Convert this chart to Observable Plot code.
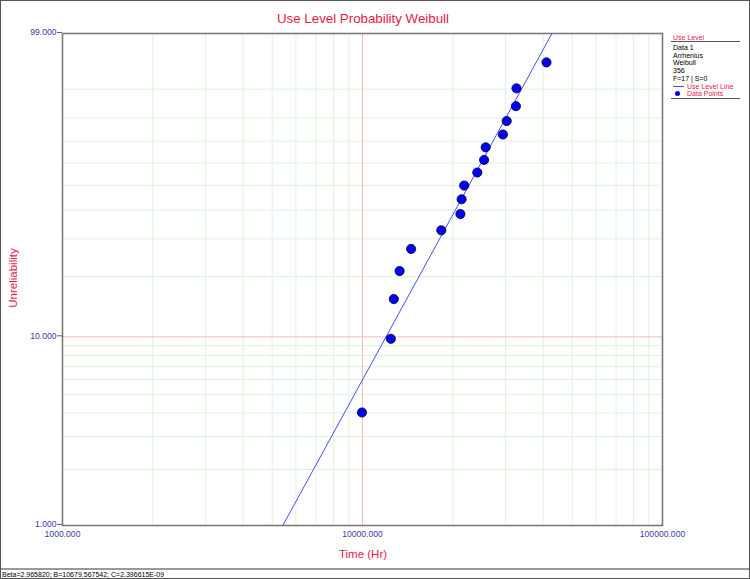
<!DOCTYPE html>
<html><head><meta charset="utf-8">
<script src="https://cdn.jsdelivr.net/npm/d3@7"></script>
<script src="https://cdn.jsdelivr.net/npm/@observablehq/plot@0.6"></script>
<style>
body{margin:0;background:#fff;}
#wrap{position:relative;width:750px;height:579px;overflow:hidden;font-family:"Liberation Sans",Arial,sans-serif;background:#fff;}
#wrap svg{position:absolute;left:0;top:0;}
.abs{position:absolute;white-space:nowrap;line-height:1;}
.c{transform:translate(-50%,-50%);}
#border{position:absolute;left:0;top:0;width:750px;height:579px;box-sizing:border-box;border:1px solid #555;pointer-events:none;}
#footer{position:absolute;left:0;top:568px;width:750px;height:11px;border-top:2px solid #999;box-sizing:border-box;}
.lg{position:absolute;left:673px;font-size:7px;line-height:1;color:#000;white-space:nowrap;}
.hr{position:absolute;left:671px;width:69px;height:0;border-top:1.2px solid #555;}
</style></head><body><div id="wrap"></div>
<script>
// Data
const times = [9960, 12427, 12717, 13295, 14521, 18310, 21201, 21397, 21830, 24134, 25430, 25744, 29376, 30248, 32460, 32610, 41052];
const unreliability = [4.023, 9.770, 15.517, 21.264, 27.011, 32.759, 38.506, 44.253, 50.000, 55.747, 61.494, 67.241, 72.989, 78.736, 84.483, 90.230, 95.977];
const lineTimes = [5424, 42810];
const lineUnrel = [1, 99];
const yTicks = [1, 10, 99];
const xTicks = [1000, 10000, 100000];
const yMinor = [2, 3, 4, 5, 6, 7, 8, 9, 20, 30, 40, 50, 60, 70, 80, 90];
const yMajor = [10];
const xMinor = [2000, 3000, 4000, 5000, 6000, 7000, 8000, 9000, 20000, 30000, 40000, 50000, 60000, 70000, 80000, 90000];
const xMajor = [10000];
const legendLines = ["Data 1", "Arrhenius", "Weibull", "356", "F=17 | S=0"];

const wb = p => Math.log(-Math.log(1 - p / 100));
const inv = v => 100 * (1 - Math.exp(-Math.exp(v)));
const pts = times.map((t, i) => ({t, F: unreliability[i]}));
const line = lineTimes.map((t, i) => ({t, F: lineUnrel[i]}));

const green = "#daf6da";
const pink = "#ffb8b8";
const blueTxt = "#3a3aa6";

const chart = Plot.plot({
  width: 750,
  height: 568,
  marginLeft: 62,
  marginRight: 88,
  marginTop: 33,
  marginBottom: 43,
  style: {fontFamily: '"Liberation Sans", Arial, sans-serif', fontSize: "8.6px", color: blueTxt, background: "transparent"},
  x: {type: "log", domain: [1000, 100000]},
  y: {type: "linear", domain: [wb(1), wb(99)]},
  marks: [
    Plot.ruleX(xMinor, {stroke: green, strokeWidth: 1}),
    Plot.ruleY(yMinor, {y: wb, stroke: green, strokeWidth: 1}),
    Plot.ruleX(xMajor, {stroke: pink, strokeWidth: 1}),
    Plot.ruleY(yMajor, {y: wb, stroke: pink, strokeWidth: 1}),
    Plot.frame({stroke: "#7a7a7a", strokeWidth: 1.6}),
    Plot.axisY(yTicks.map(wb), {tickSize: 5, tickPadding: 1, dy: -1, tickFormat: v => inv(v).toFixed(3), label: null, stroke: "#666"}),
    Plot.axisX(xTicks, {tickSize: 0, tickPadding: 5.5, tickFormat: d => d.toFixed(3), label: null}),
    Plot.line(line, {x: "t", y: d => wb(d.F), stroke: "#4b4bff", strokeWidth: 1}),
    Plot.dot(pts, {x: "t", y: d => wb(d.F), r: 4.6, fill: "#0000f0", stroke: "#00003a", strokeWidth: 0.8})
  ]
});

const wrap = document.getElementById("wrap");
wrap.appendChild(chart);

function addDiv(html, style, cls) {
  const d = document.createElement("div");
  d.className = cls || "abs";
  d.innerHTML = html;
  Object.assign(d.style, style);
  wrap.appendChild(d);
  return d;
}
addDiv("Use Level Probability Weibull", {left: "363px", top: "19px", fontSize: "13.3px", color: "#e8194b"}, "abs c");
addDiv("Time (Hr)", {left: "363px", top: "555px", fontSize: "11.5px", color: "#e8194b"}, "abs c");
addDiv("Unreliability", {left: "14px", top: "278px", fontSize: "11.5px", color: "#e8194b", transform: "translate(-50%,-50%) rotate(-90deg)"}, "abs");

// legend
addDiv("Use Level", {top: "33.5px", color: "#e8194b", textDecoration: "underline"}, "lg");
addDiv("", {top: "41px"}, "hr");
legendLines.forEach((t, i) => addDiv(t, {top: (44 + i * 7.7) + "px"}, "lg"));
addDiv("", {left: "673px", top: "86px", width: "11px", height: "0", borderTop: "1px solid #4b4bff", position: "absolute"}, "");
addDiv("Use Level Line", {top: "82.5px", left: "687px", color: "#e8194b"}, "lg");
addDiv("", {left: "675px", top: "90.5px", width: "5px", height: "5px", borderRadius: "50%", background: "#0000f0", position: "absolute"}, "");
addDiv("Data Points", {top: "89.5px", left: "687px", color: "#e8194b"}, "lg");
addDiv("", {top: "98px"}, "hr");

const f = document.createElement("div");
f.id = "footer";
f.innerHTML = '<div style="position:absolute;left:2px;top:1px;font-size:7px;line-height:1;color:#000;white-space:nowrap;">Beta=2.965820; B=10679.567542; C=2.396615E-09</div>';
wrap.appendChild(f);
const b = document.createElement("div");
b.id = "border";
wrap.appendChild(b);
</script>
</body></html>
